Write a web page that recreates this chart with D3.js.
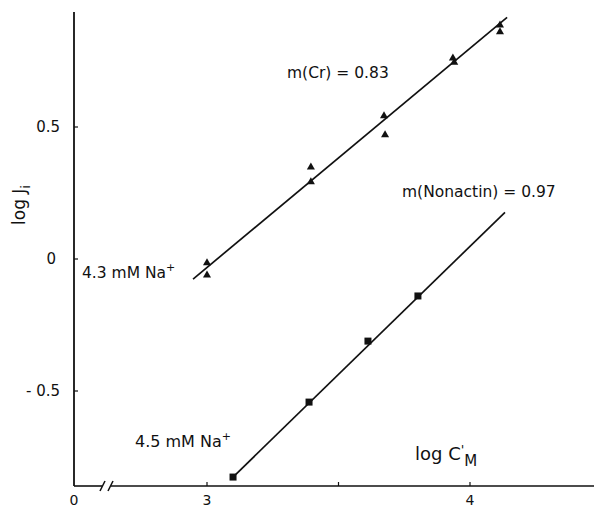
<!DOCTYPE html>
<html>
<head>
<meta charset="utf-8">
<script src="https://cdn.jsdelivr.net/npm/d3@7"></script>
<style>
  html, body { margin: 0; padding: 0; background: #fff; }
  svg text { font-family: "DejaVu Sans", Lato, sans-serif; fill: #111; }
</style>
</head>
<body>
<svg id="chart" width="594" height="507"></svg>
<script>
// Cr-mediated flux (triangles), 4.3 mM Na+
const crLogC = [3.0, 3.0, 3.395, 3.395, 3.673, 3.677, 3.935, 3.94, 4.114, 4.114];
const crLogJ = [-0.015, -0.061, 0.348, 0.292, 0.542, 0.470, 0.761, 0.745, 0.886, 0.860];
// Nonactin-mediated flux (squares), 4.5 mM Na+
const nonLogC = [3.099, 3.388, 3.612, 3.802];
const nonLogJ = [-0.826, -0.542, -0.311, -0.140];
// Regression lines: start, end and slope
const crFit = { x0: 2.947, y0: -0.076, x1: 4.141, slope: 0.83 };
const nonFit = { x0: 3.099, y0: -0.826, x1: 4.133, slope: 0.97 };
// Axis ticks
const xTicks = [3, 3.5, 4];
const xTickLabels = ["3", "", "4"];
const yTicks = [0.5, 0, -0.5];
const yTickLabels = ["0.5", "0", "- 0.5"];

const svg = d3.select("#chart");
const originX = 74, axisY = 486;

// x axis is broken between 0 and 3; the main scale covers the region after the break
const x = d3.scaleLinear().domain([3, 4]).range([207, 470]);
const y = d3.scaleLinear().domain([0, 0.5]).range([259, 127]);

const ink = "#111";

// y axis line
svg.append("line").attr("x1", originX).attr("x2", originX)
  .attr("y1", 12).attr("y2", axisY)
  .attr("stroke", ink).attr("stroke-width", 1.8);

// y ticks (inward)
yTicks.forEach((v, i) => {
  svg.append("line").attr("x1", originX).attr("x2", originX + 4)
    .attr("y1", y(v)).attr("y2", y(v)).attr("stroke", ink).attr("stroke-width", 1.2);
  svg.append("text").attr("x", v === 0 ? 56 : 60).attr("y", y(v) + 5)
    .attr("text-anchor", "end").attr("font-size", 15).text(yTickLabels[i]);
});

// x axis with break marks
svg.append("line").attr("x1", originX).attr("x2", 102).attr("y1", axisY).attr("y2", axisY)
  .attr("stroke", ink).attr("stroke-width", 1.6);
svg.append("line").attr("x1", 111).attr("x2", 594).attr("y1", axisY).attr("y2", axisY)
  .attr("stroke", ink).attr("stroke-width", 1.6);
[[100, 105], [108, 113]].forEach(([a, b]) => {
  svg.append("line").attr("x1", a).attr("x2", b).attr("y1", axisY + 5).attr("y2", axisY - 5)
    .attr("stroke", ink).attr("stroke-width", 1.5);
});

// x ticks (inward)
xTicks.forEach((v, i) => {
  svg.append("line").attr("x1", x(v)).attr("x2", x(v))
    .attr("y1", axisY).attr("y2", axisY - 4).attr("stroke", ink).attr("stroke-width", 1.2);
  if (xTickLabels[i]) {
    svg.append("text").attr("x", x(v)).attr("y", 505).attr("text-anchor", "middle")
      .attr("font-size", 14).text(xTickLabels[i]);
  }
});
svg.append("text").attr("x", originX).attr("y", 505).attr("text-anchor", "middle")
  .attr("font-size", 14).text("0");

// regression lines
[crFit, nonFit].forEach(f => {
  const y1 = f.y0 + f.slope * (f.x1 - f.x0);
  svg.append("line").attr("x1", x(f.x0)).attr("y1", y(f.y0))
    .attr("x2", x(f.x1)).attr("y2", y(y1))
    .attr("stroke", ink).attr("stroke-width", 1.7);
});

// triangle markers
const tri = d3.symbol().type(d3.symbolTriangle).size(28);
svg.append("g").selectAll("path").data(crLogC.map((c, i) => [c, crLogJ[i]]))
  .join("path")
  .attr("d", tri)
  .attr("transform", d => `translate(${x(d[0])},${y(d[1])})`)
  .attr("fill", ink);

// square markers
svg.append("g").selectAll("rect").data(nonLogC.map((c, i) => [c, nonLogJ[i]]))
  .join("rect")
  .attr("x", d => x(d[0]) - 3.5).attr("y", d => y(d[1]) - 3.5)
  .attr("width", 7).attr("height", 7)
  .attr("fill", ink);

// axis titles
const yTitle = svg.append("text").attr("transform", "translate(25,205) rotate(-90)")
  .attr("text-anchor", "middle").attr("font-size", 17);
yTitle.append("tspan").text("log J");
yTitle.append("tspan").attr("dy", 5).attr("font-size", 13).text("i");

const xTitle = svg.append("text").attr("x", 415).attr("y", 460).attr("font-size", 18);
xTitle.append("tspan").text("log C");
xTitle.append("tspan").attr("dy", -6).attr("font-size", 13).text("'");
xTitle.append("tspan").attr("dy", 12).attr("font-size", 15).text("M");

// slope annotations
svg.append("text").attr("x", 287).attr("y", 78).attr("font-size", 15.5).text("m(Cr) = 0.83");
svg.append("text").attr("x", 402).attr("y", 197).attr("font-size", 15.5).text("m(Nonactin) = 0.97");

// sodium concentration labels
const na1 = svg.append("text").attr("x", 82).attr("y", 278).attr("font-size", 15.5);
na1.append("tspan").text("4.3 mM Na");
na1.append("tspan").attr("dy", -7).attr("font-size", 11).text("+");

const na2 = svg.append("text").attr("x", 135).attr("y", 447).attr("font-size", 16);
na2.append("tspan").text("4.5 mM Na");
na2.append("tspan").attr("dy", -7).attr("font-size", 11).text("+");
</script>
</body>
</html>
